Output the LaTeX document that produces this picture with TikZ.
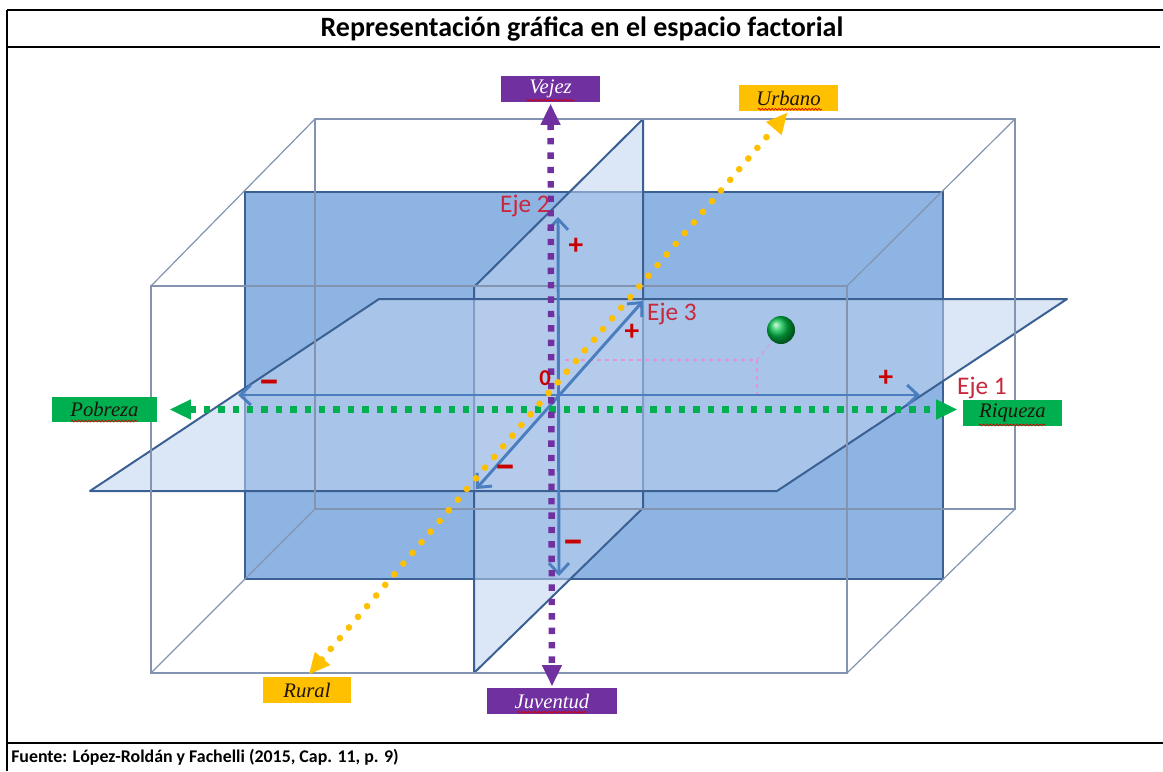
\documentclass[tikz,border=0pt]{standalone}
\usepackage{fontspec}
\setmainfont{Carlito}
\newfontfamily\lblfont{Liberation Serif}
\usetikzlibrary{arrows.meta,decorations.pathmorphing}
\definecolor{rectblue}{RGB}{142,180,227}
\definecolor{edgeblue}{RGB}{58,96,148}
\definecolor{wire}{RGB}{130,148,175}
\definecolor{planefill}{RGB}{190,210,238}
\definecolor{axisblue}{RGB}{74,126,190}
\definecolor{ggreen}{RGB}{0,176,80}
\definecolor{gpurple}{RGB}{112,48,160}
\definecolor{ggold}{RGB}{255,192,0}
\definecolor{ejered}{RGB}{200,40,60}
\definecolor{signred}{RGB}{200,0,0}
\definecolor{pinkdash}{RGB}{225,150,210}
\definecolor{ballgreen}{RGB}{0,190,70}
\definecolor{lbltext}{RGB}{30,20,10}
\begin{document}
\begin{tikzpicture}[x=0.75pt,y=-0.75pt,
  frameline/.style={line width=1.6pt,black},
  wireline/.style={draw=wire,line width=0.9pt},
  planestyle/.style={fill=planefill,fill opacity=0.55,draw=edgeblue,line width=1.5pt,line join=round},
  axisarrow/.style={draw=axisblue,line width=2.2pt,{Straight Barb[length=8pt,width=15pt]}-{Straight Barb[length=8pt,width=15pt]}},
  dotaxis/.style={draw=#1,line width=4.8pt,dash pattern=on 4.8pt off 6pt,{Triangle[length=16pt,width=14pt]}-{Triangle[length=16pt,width=14pt]}},
  golddots/.style={draw=ggold,line width=5pt,line cap=round,dash pattern=on 0pt off 10.5pt,{Triangle[length=16pt,width=14pt]}-{Triangle[length=16pt,width=14pt]}},
  labelbox/.style={fill=#1,inner sep=0pt,font=\lblfont\itshape\fontsize{15.5}{15.5}\selectfont,text=lbltext},
  ejelbl/.style={text=ejered,font=\fontsize{19}{20}\selectfont,inner sep=0pt},
  plussign/.style={text=signred,font=\bfseries\fontsize{22}{22}\selectfont,inner sep=0pt},
  minussign/.style={text=signred,font=\bfseries\fontsize{33}{33}\selectfont,inner sep=0pt},
  pinkd/.style={draw=pinkdash,line width=0.8pt,dash pattern=on 3pt off 3pt},
  squig/.style={draw=red!85!black,line width=0.5pt,decorate,decoration={snake,amplitude=0.7pt,segment length=2.5pt}}
]
\useasboundingbox (0,0) rectangle (1163,771);

% frame
\draw[frameline] (7,10) -- (1163,10);
\draw[frameline] (7,47) -- (1160,47);
\draw[frameline] (7,743) -- (1163,743);
\draw[frameline] (7,10) -- (7,771);
\node[font=\bfseries\fontsize{21}{24}\selectfont,inner sep=0pt] (title) at (582,29) {Representación gráfica en el espacio factorial};
\node[anchor=west,font=\bfseries\fontsize{13.4}{16}\selectfont,inner sep=0pt] (src) at (11,757) {Fuente: López-Roldán y Fachelli (2015, Cap. 11, p. 9)};

% middle blue plane
\draw[fill=rectblue,draw=edgeblue,line width=1.7pt] (245,192) rectangle (943,579);

% vertical plane
\draw[planestyle] (474,287) -- (643,119) -- (643,508) -- (474,673) -- cycle;
% horizontal plane
\draw[planestyle] (90,491) -- (379,299) -- (1067,299) -- (777,491) -- cycle;

% wireframe box
\draw[wireline] (315,119) rectangle (1015,509);
\draw[wireline] (151,286) rectangle (847,673);
\draw[wireline] (151,286) -- (315,119);
\draw[wireline] (847,286) -- (1015,119);
\draw[wireline] (151,673) -- (315,509);
\draw[wireline] (847,673) -- (1015,509);

% pink projection lines and point
\node[circle,shade,ball color=ballgreen,minimum size=21pt,inner sep=0pt] (ball) at (781,330) {};
\coordinate (pl) at (565,360);
\coordinate (pc) at (757,360);
\coordinate (pd) at (757,394);
\draw[pinkd] (pl) -- (pc) -- (pd);
\draw[pinkd] (pc) -- (ball);

% blue axes
\coordinate (e1l) at (238,395);
\coordinate (e1r) at (920,395);
\coordinate (e2t) at (558,217);
\coordinate (e2b) at (559,576);
\coordinate (e3b) at (476,489);
\coordinate (e3t) at (643,301);
\draw[axisarrow] (e1l) -- (e1r);
\draw[axisarrow] (e2b) -- (e2t);
\draw[axisarrow] (e3b) -- (e3t);

% label boxes
\node[labelbox=ggreen,minimum width=79pt,minimum height=19pt] (pob) at (104.5,409.5) {Pobreza};
\node[labelbox=ggreen,minimum width=74pt,minimum height=19.5pt] (riq) at (1012.5,413) {Riqueza};
\node[labelbox=gpurple,minimum width=74pt,minimum height=19.5pt,text=white] (vej) at (550.5,89) {Vejez};
\node[labelbox=gpurple,minimum width=97.5pt,minimum height=19.5pt,text=white] (juv) at (552,701) {Juventud};
\node[labelbox=ggold,minimum width=66pt,minimum height=19.5pt] (rur) at (307,690) {Rural};
\node[labelbox=ggold,minimum width=74pt,minimum height=19.5pt] (urb) at (788.5,98) {Urbano};

% dotted factor axes
\draw[dotaxis=ggreen,shorten <=9pt,shorten >=4pt] (pob.east) -- (pob.east -| riq.west);
\draw[dotaxis=gpurple,shorten <=1pt,shorten >=1pt] (vej.south) -- (juv.north);
\draw[golddots,shorten <=2pt,shorten >=1pt] (rur.north) -- (urb.south);

% spell-check squiggles
\draw[squig] ([xshift=-25pt,yshift=1pt]pob.south) -- ([xshift=25pt,yshift=1pt]pob.south);
\draw[squig] ([xshift=-25pt,yshift=1pt]riq.south) -- ([xshift=25pt,yshift=1pt]riq.south);
\draw[squig] ([xshift=-18pt,yshift=1.5pt]vej.south) -- ([xshift=18pt,yshift=1.5pt]vej.south);
\draw[squig] ([xshift=-26pt,yshift=1.5pt]juv.south) -- ([xshift=26pt,yshift=1.5pt]juv.south);
\draw[squig] ([xshift=-23pt,yshift=1.5pt]urb.south) -- ([xshift=25pt,yshift=1.5pt]urb.south);

% axis labels and signs
\node[ejelbl] (l2) at (525,206) {Eje 2};
\node[ejelbl] (l3) at (672,314) {Eje 3};
\node[ejelbl] (l1) at (982,388) {Eje 1};
\node[text=signred,font=\bfseries\fontsize{17}{17}\selectfont,inner sep=0pt] (zero) at (545,378) {0};
\node[plussign] (p2) at (576,246) {+};
\node[plussign] (p3) at (632,332) {+};
\node[plussign] (p1) at (886,378) {+};
\node[minussign] (m1) at (269,387) {–};
\node[minussign] (m3) at (505,472) {–};
\node[minussign] (m2) at (573,547) {–};
\end{tikzpicture}
\end{document}
